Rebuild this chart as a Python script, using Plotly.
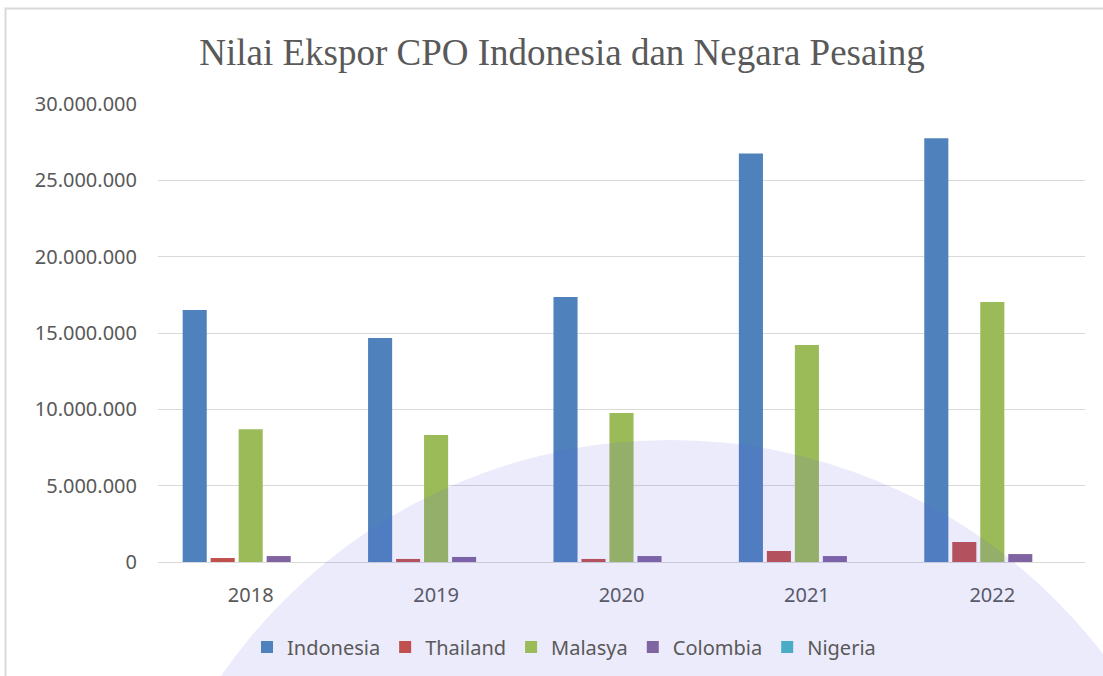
import plotly.graph_objects as go

W, H = 1103, 676

years = ["2018", "2019", "2020", "2021", "2022"]
indonesia = [16500000, 14670000, 17360000, 26750000, 27750000]
thailand = [260000, 200000, 200000, 720000, 1310000]
malasya = [8700000, 8320000, 9760000, 14210000, 17030000]
colombia = [390000, 330000, 390000, 390000, 520000]
nigeria = [0, 0, 0, 0, 0]

series = [
    ("Indonesia", indonesia, "#4F81BD"),
    ("Thailand", thailand, "#C0504D"),
    ("Malasya", malasya, "#9BBB59"),
    ("Colombia", colombia, "#8064A2"),
    ("Nigeria", nigeria, "#4BACC6"),
]

y_ticks = [0, 5000000, 10000000, 15000000, 20000000, 25000000, 30000000]


def px_x(x):
    return x / W


def px_y(y):
    return (H - y) / H


fig = go.Figure()
for name, vals, col in series:
    fig.add_trace(go.Bar(x=years, y=vals, name=name, marker=dict(color=col, line=dict(width=0))))

tick_font = dict(family="Noto Sans", size=20, color="#595959")

fig.update_layout(
    width=W,
    height=H,
    margin=dict(l=0, r=0, t=0, b=0, autoexpand=False),
    paper_bgcolor="white",
    plot_bgcolor="rgba(0,0,0,0)",
    separators=",.",
    barmode="group",
    bargap=0.245,
    bargroupgap=0.14,
    showlegend=True,
    title=dict(
        text="Nilai Ekspor CPO Indonesia dan Negara Pesaing",
        font=dict(family="Liberation Serif", size=37, color="#595959"),
        x=px_x(562), xanchor="center", xref="paper",
        y=px_y(52), yanchor="middle", yref="paper",
    ),
    xaxis=dict(
        domain=[px_x(158), px_x(1085)],
        showgrid=False,
        showline=True,
        linecolor="#D9D9D9",
        linewidth=1,
        ticks="",
        tickfont=tick_font,
        ticklabelstandoff=15,
        automargin=False,
    ),
    yaxis=dict(
        domain=[px_y(562), px_y(104)],
        range=[0, 30000000],
        tickvals=y_ticks,
        tickformat=",.0f",
        showgrid=True,
        gridcolor="#D9D9D9",
        gridwidth=1,
        zeroline=False,
        showline=False,
        ticks="",
        tickfont=tick_font,
        ticklabelstandoff=20,
        automargin=False,
    ),
    legend=dict(
        orientation="h",
        x=px_x(564), xanchor="center",
        y=px_y(647), yanchor="middle",
        font=tick_font,
        bgcolor="rgba(0,0,0,0)",
        itemclick=False,
    ),
    shapes=[
        # chart frame
        dict(type="rect", xref="paper", yref="paper",
             x0=px_x(5.5), x1=1.05, y0=-0.05, y1=px_y(8.5),
             line=dict(color="#D9D9D9", width=2), fillcolor="rgba(0,0,0,0)", layer="below"),
        # faint watermark seal
        dict(type="circle", xref="paper", yref="paper",
             x0=px_x(670 - 545), x1=px_x(670 + 545), y0=px_y(985 + 545), y1=px_y(985 - 545),
             line=dict(width=0), fillcolor="rgba(90,90,220,0.12)", layer="above"),
    ],
)

fig.write_html("out.html")
